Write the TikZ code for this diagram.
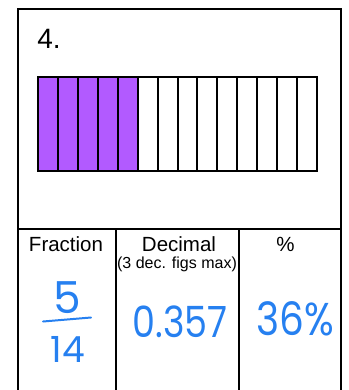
\documentclass[tikz,border=0pt]{standalone}
\usepackage{fontspec}
\usepackage{graphicx}
\setmainfont{Liberation Sans}
\newfontfamily\handfont{Poppins}
\definecolor{barpurple}{RGB}{178,90,255}
\definecolor{inkblue}{RGB}{38,128,240}
\tikzset{
  head/.style={anchor=base, font=\fontsize{20.5}{24}\selectfont},
  ink/.style={anchor=base, text=inkblue, inner sep=0pt},
}

\begin{document}
\begin{tikzpicture}[x=1pt,y=-1pt]
  \useasboundingbox (0,0) rectangle (348,390);
  % card, open at the bottom
  \draw[line width=2pt] (18,396) -- (18,9) -- (341,9) -- (341,396);
  \node[anchor=base, font=\fontsize{28}{32}\selectfont, inner sep=0pt] (num) at (49,49) {4.};
  % bar of 14 parts, 5 shaded
  \foreach \i in {0,...,4}
    \fill[barpurple] ({38+\i*19.93},77) rectangle ++(19.93,94);
  \foreach \i in {1,...,13}
    \draw[line width=2pt] ({38+\i*19.93},77) -- ++(0,94);
  \draw[line width=2pt] (38,77) rectangle (317,171);
  % table
  \draw[line width=1.3pt] (18,229) -- (341,229);
  \draw[line width=1.3pt] (116,229) -- (116,396);
  \draw[line width=1.3pt] (239,229) -- (239,396);
  \node[head] (fraction) at (66,251) {Fraction};
  \node[head] (decimal) at (179,251) {Decimal};
  \node[anchor=base, font=\fontsize{16}{18}\selectfont] (hint) at (177,268) {(3 dec. figs max)};
  \node[head] (percent) at (285.5,251) {\%};
  % answers
  \node[ink, font=\handfont\fontsize{44}{48}\selectfont] (numer) at (67,313) {5};
  \node[ink, font=\handfont\fontsize{36}{40}\selectfont] (denom) at (68,362) {14};
  \draw[inkblue, line width=2pt, line cap=round] (43,321.5) -- (91,317.5);
  \node[ink, font=\handfont\fontsize{43}{46}\selectfont] (dec) at (180,337) {\scalebox{0.85}[1]{0.357}};
  \node[ink, font=\handfont\fontsize{46}{50}\selectfont] (pct) at (295.5,335) {\scalebox{0.85}[1]{36\%}};
\end{tikzpicture}
\end{document}
